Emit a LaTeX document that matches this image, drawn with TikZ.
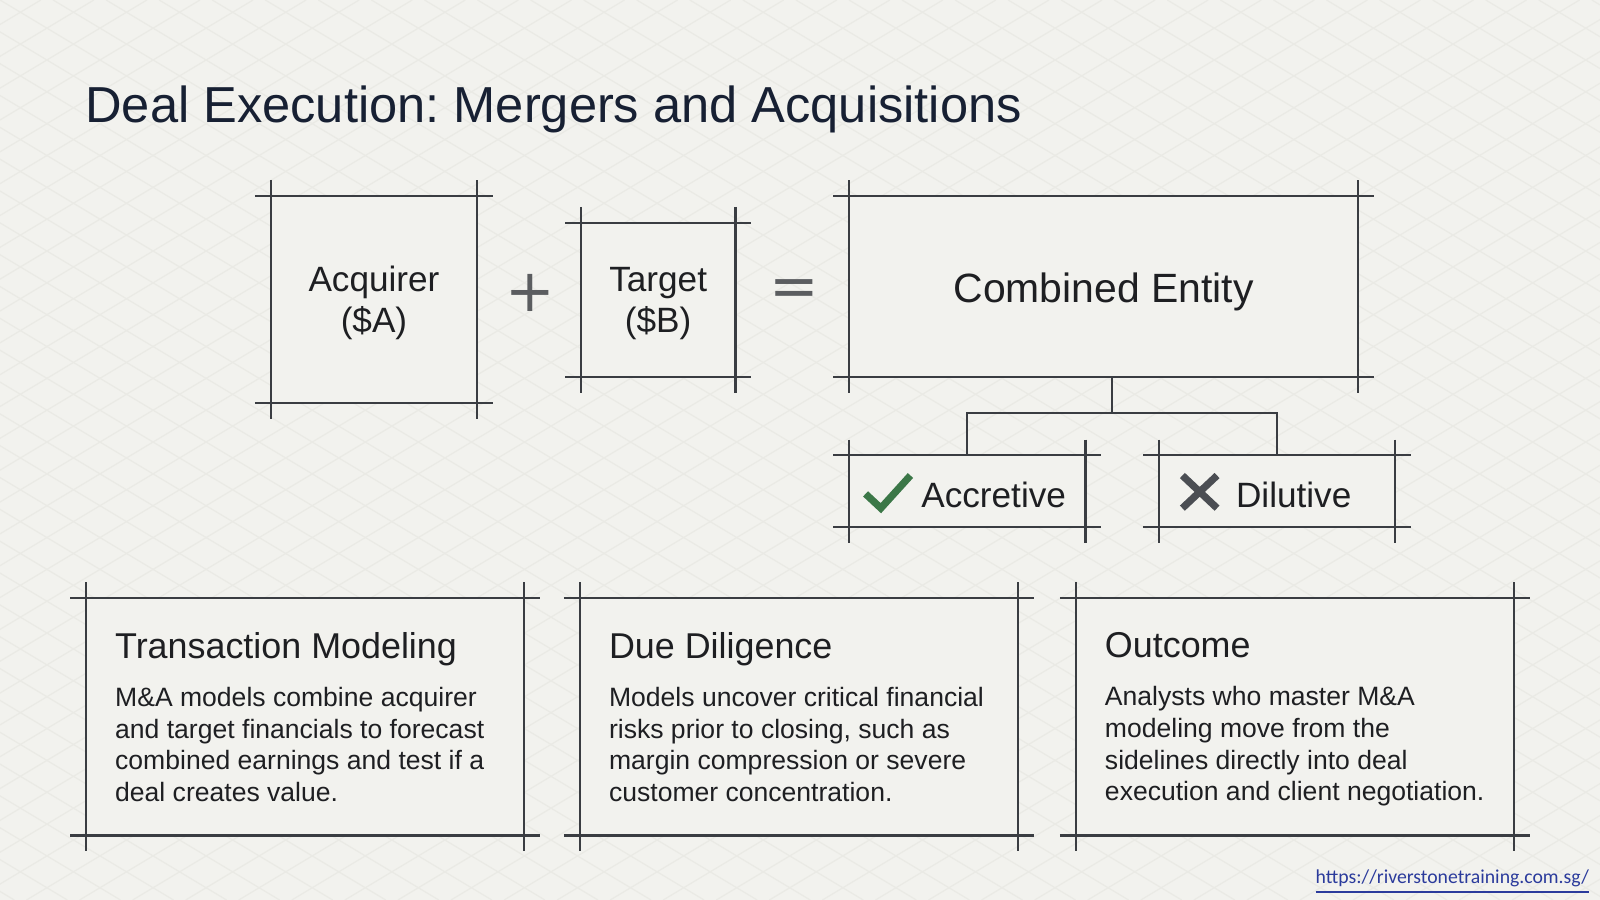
\documentclass[tikz,border=0pt]{standalone}
\usepackage{fontspec}
\setmainfont{Liberation Sans}
\newfontfamily\signfont{DejaVu Sans}
\newfontfamily\linkfont{Carlito}
\usetikzlibrary{%
  positioning,
  calc,
}

\definecolor{paper}{HTML}{F2F2EE}
\definecolor{gridline}{HTML}{EAEAE5}
\definecolor{ink}{HTML}{3A3D42}
\definecolor{titleink}{HTML}{172033}
\definecolor{textink}{HTML}{1E1F22}
\definecolor{opink}{HTML}{5B5D60}
\definecolor{okgreen}{HTML}{3B7747}
\definecolor{nogray}{HTML}{4B4E53}
\definecolor{linkblue}{HTML}{2B3B9C}

\newlength\boxoverhang
\setlength\boxoverhang{4.4pt}

\newcommand\dealtitle{\fontsize{14.1}{17}\selectfont}
\newcommand\boxlabel{\fontsize{9.8}{11.4}\selectfont}
\newcommand\entitylabel{\fontsize{11.4}{14}\selectfont}
\newcommand\cardhead{\fontsize{10}{12}\selectfont}
\newcommand\cardbody{\fontsize{7.4}{8.82}\selectfont}
\newcommand\opsign{\signfont\fontsize{16.5}{16.5}\selectfont}

\frenchspacing

\begin{document}
\begin{tikzpicture}[
    x=0.01cm, y=-0.01cm,
    crossrule/.style={draw=ink, line width=0.6pt},
    crossbox/.style={
      % The shape:
      rectangle,
      inner sep=0pt,
      align=center,
      % no border of its own, the lines come later
      fill=paper,
      text=textink,
    },
    namebox/.style={
      crossbox,
      text depth=0pt,
      font=\boxlabel,
    },
    verdict/.style={
      crossbox,
      minimum height=0.69cm,
      text width=2.30cm,
      align=left,
      text height=9pt,
      text depth=0pt,
      font=\boxlabel,
    },
    card/.style={
      crossbox,
      minimum width=4.28cm,
      minimum height=2.31cm,
    },
    blurb/.style={
      inner sep=0pt,
      align=left,
      text depth=0pt,
      text=textink,
      font=\cardbody,
    },
    sign/.style={inner sep=0pt, text=opink, font=\opsign},
    checkstroke/.style={draw=okgreen, line width=2pt},
    crossstroke/.style={draw=nogray, line width=2pt},
  ]

    \useasboundingbox (0,0) rectangle (1568,882);
    \fill[paper] (0,0) rectangle (1568,882);

    % faint diamond grid behind everything
    \begin{scope}
      \clip (0,0) rectangle (1568,882);
      \foreach \s in {-1612,-1560,...,1612} {
        \draw[gridline, line width=0.35pt] (\s,0) -- ++(1470,882);
        \draw[gridline, line width=0.35pt] (\s+1600,0) -- ++(-1470,882);
      }
    \end{scope}

    \node[anchor=base west, inner sep=0pt, text=titleink, font=\dealtitle] (title)
      at (83,120) {Deal Execution: Mergers and Acquisitions};

    \node[namebox, minimum width=2.01cm, minimum height=2.01cm] (acq)
      at (366.5,293.5) {Acquirer\\(\$A)};
    \node[sign] (plus) at (519.5,287.5) {+};
    \node[namebox, minimum width=1.5cm, minimum height=1.5cm] (tgt)
      at (645,294) {Target\\(\$B)};
    \node[sign] (eq) at (778,287) {=};
    \node[namebox, minimum width=4.97cm, minimum height=1.76cm,
          font=\entitylabel, text height=8.6pt] (comb)
      at (1081.5,281) {Combined Entity};

    \node[verdict] (accr) at (948,481.5) {\hspace{19.9pt}Accretive};
    \node[verdict] (dilu) at (1251.5,481.5) {\hspace{21.3pt}Dilutive};

    \node[card] (model) at (299,702.5) {};
    \node[card] (diligence) at (783,702.5) {};
    \node[card] (outcome) at (1269,702.5) {};

    \node[blurb, right=0.28cm of model.west] (modeltext) {%
      {\cardhead Transaction Modeling}\\[4.6pt]
      M\&A models combine acquirer\\
      and target financials to forecast\\
      combined earnings and test if a\\
      deal creates value.};
    \node[blurb, right=0.28cm of diligence.west] (diligencetext) {%
      {\cardhead Due Diligence}\\[4.6pt]
      Models uncover critical financial\\
      risks prior to closing, such as\\
      margin compression or severe\\
      customer concentration.};
    \node[blurb, right=0.28cm of outcome.west] (outcometext) {%
      {\cardhead Outcome}\\[4.6pt]
      Analysts who master M\&A\\
      modeling move from the\\
      sidelines directly into deal\\
      execution and client negotiation.};

    % border lines that run past the corners
    \foreach \b in {acq,tgt,comb,accr,dilu,model,diligence,outcome}
      \draw[crossrule]
        ([xshift=-\boxoverhang]\b.north west) -- ([xshift=\boxoverhang]\b.north east)
        ([xshift=-\boxoverhang]\b.south west) -- ([xshift=\boxoverhang]\b.south east)
        ([yshift=\boxoverhang]\b.north west) -- ([yshift=-\boxoverhang]\b.south west)
        ([yshift=\boxoverhang]\b.north east) -- ([yshift=-\boxoverhang]\b.south east);

    % check and cross marks
    \draw[checkstroke] ([shift={(16,2.5)}]accr.west) -- ++(15,14) -- ++(29,-32);
    \draw[crossstroke] ([shift={(23,-15.5)}]dilu.west) -- ++(34,32)
                       ([shift={(23,16.5)}]dilu.west) -- ++(34,-32);

    \coordinate (fork) at ($(comb.south)+(8.5,35)$);
    \draw[crossrule] (fork |- comb.south) -- (fork);
    \draw[crossrule] (fork) -| (accr.north);
    \draw[crossrule] (fork) -| (dilu.north);

    \node[anchor=base east, inner sep=0pt, text=linkblue,
          font=\linkfont\fontsize{5.5}{6.6}\selectfont] (url)
      at (1558,866) {\underline{https://riverstonetraining.com.sg/}};
  \end{tikzpicture}
\end{document}
